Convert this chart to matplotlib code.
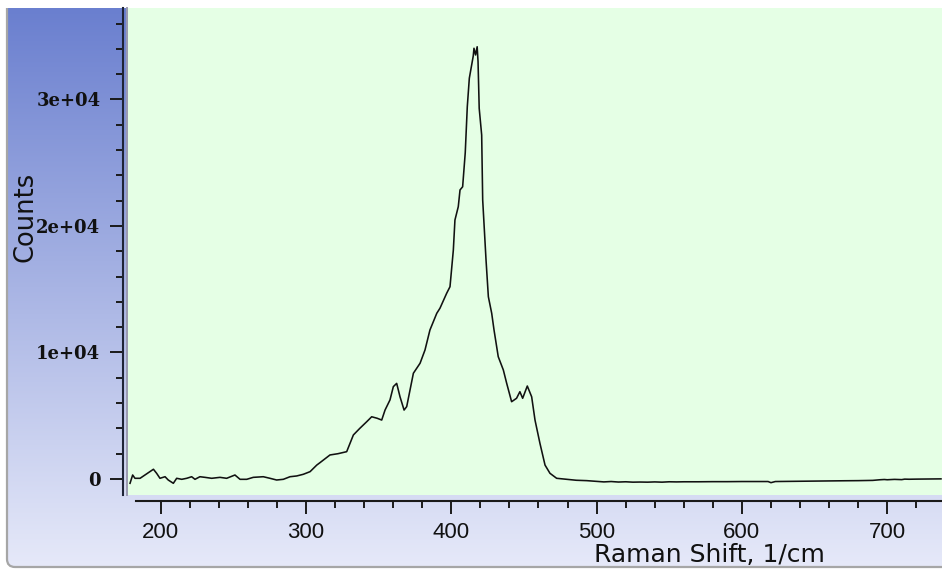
import matplotlib
matplotlib.use("Agg")
import matplotlib.pyplot as plt
import numpy as np
from matplotlib.patches import FancyBboxPatch, Rectangle
from matplotlib.lines import Line2D
from matplotlib.ticker import FixedLocator

# ---- data ----
raman_shift = [
    178.9, 180.7, 182.3, 185.8, 189.2, 192.6, 195.0, 197.2, 199.5, 203.0,
    205.2, 208.7, 211.0, 214.5, 217.9, 221.3, 223.6, 227.0, 230.5, 235.1,
    240.8, 245.4, 251.1, 254.6, 259.2, 263.7, 270.6, 275.2, 279.8, 284.4,
    289.0, 293.6, 298.1, 302.8, 307.4, 309.6, 316.5, 322.0, 328.0, 332.6,
    337.0, 341.8, 345.2, 349.0, 352.1, 354.4, 357.8, 360.1, 362.4, 364.7,
    367.5, 369.3, 373.9, 378.5, 381.9, 385.3, 390.0, 392.2, 396.8, 399.1,
    401.4, 402.5, 404.8, 406.0, 407.8, 409.6, 411.0, 412.4, 414.0, 415.1,
    415.6, 416.7, 417.8, 418.4, 419.2, 420.9, 421.6, 422.5, 423.9, 425.5,
    427.8, 429.4, 432.3, 435.8, 438.1, 441.5, 444.9, 447.2, 449.1, 452.3,
    455.3, 457.6, 461.0, 464.5, 467.9, 472.5, 479.4, 486.0, 493.2, 502.3,
    505.0, 510.0, 515.0, 520.0, 525.0, 530.0, 535.0, 540.0, 545.0, 550.0,
    555.0, 560.0, 570.0, 580.0, 590.0, 600.0, 610.0, 618.0, 620.0, 623.0,
    630.0, 640.0, 650.0, 660.0, 670.0, 680.0, 690.0, 695.0, 698.0, 700.0,
    705.0, 710.0, 712.0, 715.0, 720.0, 730.0, 737.0,
]
counts = [
    -340, 316, 55, 55, 316, 580, 770, 450, 55, 180,
    -80, -340, 55, -25, 55, 180, -25, 180, 130, 55,
    130, 55, 316, -25, -25, 130, 180, 55, -80, -25,
    180, 240, 370, 580, 1100, 1290, 1900, 2000, 2160, 3480,
    4000, 4530, 4920, 4800, 4660, 5450, 6250, 7300, 7560, 6500,
    5450, 5720, 8360, 9150, 10200, 11780, 13100, 13500, 14680, 15200,
    18100, 20470, 21530, 22850, 23100, 25800, 29430, 31680, 32730, 33440,
    34050, 33520, 34170, 33000, 29300, 27190, 22060, 20210, 17310, 14410,
    13100, 11780, 9670, 8620, 7570, 6110, 6380, 6900, 6380, 7350,
    6500, 4660, 2820, 1100, 450, 55, -25, -100, -130, -210,
    -230, -200, -240, -220, -250, -240, -250, -230, -250, -220,
    -230, -220, -220, -210, -210, -200, -200, -200, -290, -200,
    -190, -170, -160, -150, -140, -130, -110, -60, -40, -60,
    -30, -50, -10, -20, -10, 0, 10,
]
x_major = [200, 300, 400, 500, 600, 700]
y_major = [0, 10000, 20000, 30000]
y_labels = ["0", "1e+04", "2e+04", "3e+04"]
x_label = "Raman Shift, 1/cm"
y_label = "Counts"

W, H, DPI = 942, 569, 100
fig = plt.figure(figsize=(W / DPI, H / DPI), dpi=DPI, facecolor="white")

# ---- background panel (pixel coords) ----
bg = fig.add_axes([0, 0, 1, 1], zorder=0)
bg.set_xlim(0, W)
bg.set_ylim(H, 0)
bg.axis("off")
panel = FancyBboxPatch((7, -30), 980, 597, boxstyle="round,pad=0,rounding_size=8",
                       facecolor="none", edgecolor="#a6a6a6", linewidth=1.6, zorder=3)
bg.add_patch(panel)
top_c = np.array([106, 127, 207]) / 255.0
bot_c = np.array([230, 233, 249]) / 255.0
t = np.linspace(0, 1, 256)[:, None]
grad = (top_c[None, :] * (1 - t) + bot_c[None, :] * t)[:, None, :]
im = bg.imshow(grad, extent=[7, 987, 567, 8], aspect="auto", zorder=1, interpolation="bilinear")
im.set_clip_path(panel)
bg.add_patch(Rectangle((0, 0), W, 8, facecolor="white", edgecolor="none", zorder=4))
bg.add_line(Line2D([127, 127], [8, 495], color="#9b9bb0", linewidth=1.4, zorder=5))

# ---- main plot ----
L, R, T, B = 128, 942, 8, 495
ax = fig.add_axes([L / W, 1 - B / H, (R - L) / W, (B - T) / H], zorder=2)
ax.set_facecolor("#e5ffe5")
ax.plot(raman_shift, counts, color="#111111", linewidth=1.15)
ax.set_xlim(177.5, 737.7)
ax.set_ylim(-1265, 37233)

for s in ["top", "right"]:
    ax.spines[s].set_visible(False)
ax.spines["left"].set_position(("outward", 3.6))
ax.spines["left"].set_color("#1e2436")
ax.spines["left"].set_linewidth(1.5)
ax.spines["bottom"].set_position(("outward", 4.3))
ax.spines["bottom"].set_color("#1a1a1a")
ax.spines["bottom"].set_linewidth(1.5)
ax.spines["bottom"].set_bounds(183, 737.7)

ax.xaxis.set_major_locator(FixedLocator(x_major))
ax.xaxis.set_minor_locator(FixedLocator([v for v in range(200, 740, 20) if v % 100]))
ax.yaxis.set_major_locator(FixedLocator(y_major))
ax.yaxis.set_minor_locator(FixedLocator([v for v in range(2000, 37000, 2000) if v % 10000]))
ax.set_xticklabels([str(v) for v in x_major])
ax.set_yticklabels(y_labels)

ax.tick_params(axis="both", which="major", length=9.1, width=1.4, color="#1a1a1a", direction="out")
ax.tick_params(axis="both", which="minor", length=4.8, width=1.4, color="#1a1a1a", direction="out")
ax.tick_params(axis="y", which="major", pad=7.2)
ax.tick_params(axis="x", which="major", pad=6.3)
for lab in ax.get_yticklabels():
    lab.set_fontfamily("DejaVu Serif")
    lab.set_fontweight("bold")
    lab.set_fontsize(13)
    lab.set_color("#111111")
for lab in ax.get_xticklabels():
    lab.set_fontfamily("Liberation Sans")
    lab.set_fontsize(16)
    lab.set_color("#111111")

fig.text(709 / W, 1 - 562 / H, x_label, ha="center", va="baseline",
         fontsize=18, family="DejaVu Sans", color="#111111", zorder=10)
fig.text(25 / W, 1 - 217 / H, y_label, ha="center", va="center", rotation=90,
         fontsize=18.5, family="DejaVu Sans", color="#111111", zorder=10)

fig.savefig("out.png", dpi=DPI, facecolor="white")
